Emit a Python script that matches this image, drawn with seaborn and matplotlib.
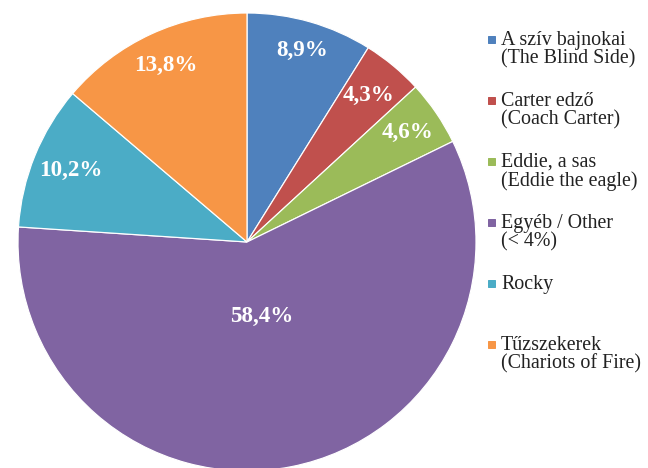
import matplotlib
matplotlib.use("Agg")
import matplotlib.pyplot as plt
import seaborn as sns
import numpy as np

sns.set_theme(style="white")
plt.rcParams['font.family'] = ['Liberation Serif', 'DejaVu Serif']

labels = ["A szív bajnokai\n(The Blind Side)", "Carter edző\n(Coach Carter)",
          "Eddie, a sas\n(Eddie the eagle)", "Egyéb / Other\n(< 4%)", "Rocky",
          "Tűzszekerek\n(Chariots of Fire)"]
values = [8.9, 4.3, 4.6, 58.4, 10.2, 13.8]
pct_text = ["8,9%", "4,3%", "4,6%", "58,4%", "10,2%", "13,8%"]
colors = ["#4F81BD", "#C0504D", "#9BBB59", "#8064A2", "#4BACC6", "#F79646"]
label_dist = [0.87, 0.83, 0.85, 0.33, 0.83, 0.85]

fig = plt.figure(figsize=(9, 6.5), dpi=72)
cx, cy, r = 247 / 648, 1 - 242 / 468, 229
ax = fig.add_axes([cx - r / 648, cy - r / 468, 2 * r / 648, 2 * r / 468])
wedges, _ = ax.pie(values, colors=colors, startangle=90, counterclock=False,
                   wedgeprops=dict(edgecolor="white", linewidth=1.2))
ax.set_xlim(-1, 1)
ax.set_ylim(-1, 1)
ax.set_aspect("auto")

total = sum(values)
cum = 0
for v, t, d in zip(values, pct_text, label_dist):
    mid = 90 - (cum + v / 2) / total * 360
    cum += v
    a = np.deg2rad(mid)
    ax.text(d * np.cos(a), d * np.sin(a), t, ha="center", va="center",
            color="white", fontsize=23, fontweight="bold")

# legend drawn manually
y0 = 1 - 31 / 468
step = 61 / 468
for i, (lab, c) in enumerate(zip(labels, colors)):
    y = y0 - i * step
    fig.patches.append(plt.Rectangle((488 / 648, y - 12 / 468), 7 / 648, 7 / 468,
                                     transform=fig.transFigure, color=c))
    fig.text(501 / 648, y, lab, ha="left", va="top", fontsize=20,
             color="#222222", linespacing=0.92)

fig.savefig("out.png", dpi=72)
